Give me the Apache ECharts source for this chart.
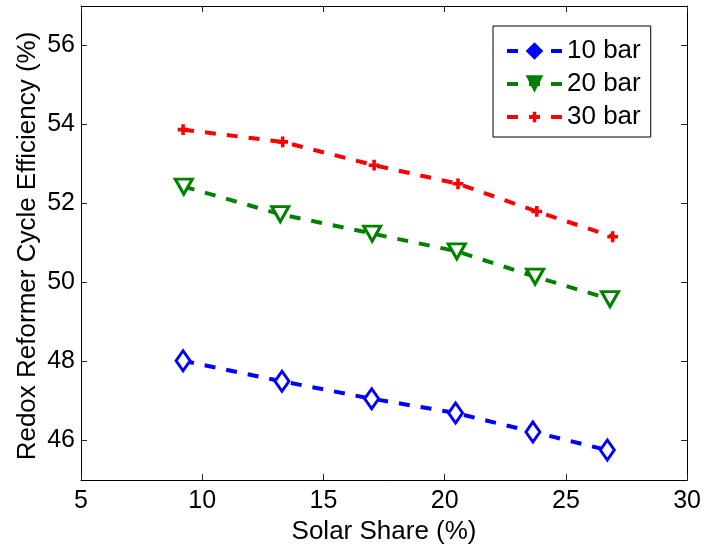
<!DOCTYPE html>
<html>
<head>
<meta charset="utf-8">
<script src="https://cdn.jsdelivr.net/npm/echarts@6/dist/echarts.min.js"></script>
<style>
  html, body { margin: 0; padding: 0; background: #fff; }
  #chart { width: 704px; height: 550px; }
</style>
</head>
<body>
<div id="chart"></div>
<script>
// Solar share (%) and redox reformer cycle efficiency (%) at three pressures
const share10 = [9.21, 13.29, 16.99, 20.45, 23.64, 26.71];
const eff10   = [48.02, 47.50, 47.06, 46.70, 46.22, 45.76];

const share20 = [9.24, 13.22, 17.01, 20.50, 23.73, 26.82];
const eff20   = [52.43, 51.73, 51.24, 50.79, 50.15, 49.58];

const share30 = [9.21, 13.32, 17.09, 20.55, 23.80, 26.93];
const eff30   = [53.87, 53.56, 52.97, 52.50, 51.80, 51.16];

const seriesNames = ['10 bar', '20 bar', '30 bar'];
const xTicks = [5, 10, 15, 20, 25, 30];
const yTicks = [46, 48, 50, 52, 54, 56];
const xTitle = 'Solar Share (%)';
const yTitle = 'Redox Reformer Cycle Efficiency (%)';

const FONT = "'Liberation Sans', Arial, Helvetica, sans-serif";
const BLUE = '#0000ff', GREEN = '#008000', RED = '#ff0000';
// plus glyph, padded with move-to points so it sits smaller in its box
const PLUS = 'path://M-4,-4M16,16M4,0H8V4H12V8H8V12H4V8H0V4H4Z';

const pairs = (xs, ys) => xs.map((x, i) => [x, ys[i]]);

const chart = echarts.init(document.getElementById('chart'), null, { renderer: 'canvas' });

const GRID = { left: 81, right: 15, top: 6, bottom: 64 };
const tickStyle = { inside: true, length: 6, lineStyle: { color: '#222', width: 1 } };
const lineAxis = { show: true, onZero: false, lineStyle: { color: '#000', width: 1 } };

const option = {
  backgroundColor: '#fff',
  animation: false,
  grid: Object.assign({ containLabel: false }, GRID),
  xAxis: [
    {
      type: 'value', position: 'bottom',
      min: xTicks[0], max: xTicks[xTicks.length - 1], interval: 5,
      name: xTitle, nameLocation: 'middle', nameGap: 27,
      nameTextStyle: { fontFamily: FONT, fontSize: 26, color: '#000' },
      axisLine: lineAxis, axisTick: tickStyle,
      axisLabel: { fontFamily: FONT, fontSize: 25, color: '#000', margin: 9 },
      splitLine: { show: false }
    },
    {
      type: 'value', position: 'top',
      min: xTicks[0], max: xTicks[xTicks.length - 1], interval: 5,
      axisLine: lineAxis, axisTick: tickStyle,
      axisLabel: { show: false }, splitLine: { show: false }
    }
  ],
  yAxis: [
    {
      type: 'value', position: 'left',
      min: 45, max: 57,
      axisLine: lineAxis,
      axisTick: Object.assign({ customValues: yTicks }, tickStyle),
      axisLabel: { fontFamily: FONT, fontSize: 25, color: '#000', margin: 6, customValues: yTicks },
      splitLine: { show: false }
    },
    {
      type: 'value', position: 'right',
      min: 45, max: 57,
      axisLine: lineAxis,
      axisTick: Object.assign({ customValues: yTicks }, tickStyle),
      axisLabel: { show: false, customValues: yTicks }, splitLine: { show: false }
    }
  ],
  // vertical axis title, centred on the plot height
  graphic: [{
    type: 'text',
    x: 28,
    y: GRID.top + (550 - GRID.top - GRID.bottom) / 2,
    rotation: Math.PI / 2,
    style: {
      text: yTitle, fontFamily: FONT, fontSize: 26, fill: '#000',
      align: 'center', verticalAlign: 'middle'
    }
  }],
  legend: {
    orient: 'vertical',
    left: 493, top: 26,
    padding: [12, 10, 7, 12],
    borderColor: '#000', borderWidth: 1,
    backgroundColor: '#fff',
    itemWidth: 55, itemHeight: 22, itemGap: 7,
    lineStyle: { width: 4 },
    textStyle: { fontFamily: FONT, fontSize: 26, color: '#000' },
    data: [
      { name: seriesNames[0], itemStyle: { color: BLUE, borderWidth: 0 } },
      { name: seriesNames[1], itemStyle: { color: GREEN, borderWidth: 0 } },
      { name: seriesNames[2], itemStyle: { color: RED, borderWidth: 0 } }
    ]
  },
  series: [
    {
      name: seriesNames[0], type: 'line',
      data: pairs(share10, eff10),
      lineStyle: { color: BLUE, width: 4, type: [11, 11] },
      symbol: 'diamond', symbolSize: [14, 20],
      itemStyle: { color: '#fff', borderColor: BLUE, borderWidth: 3 },
      z: 3
    },
    {
      name: seriesNames[1], type: 'line',
      data: pairs(share20, eff20),
      lineStyle: { color: GREEN, width: 4, type: [11, 11] },
      symbol: 'triangle', symbolRotate: 180, symbolSize: [17, 15],
      itemStyle: { color: '#fff', borderColor: GREEN, borderWidth: 3 },
      z: 3
    },
    {
      name: seriesNames[2], type: 'line',
      data: pairs(share30, eff30),
      lineStyle: { color: RED, width: 4, type: [11, 11] },
      symbol: PLUS, symbolSize: 18,
      itemStyle: { color: RED, borderWidth: 0 },
      z: 3
    }
  ]
};

chart.setOption(option);
</script>
</body>
</html>
